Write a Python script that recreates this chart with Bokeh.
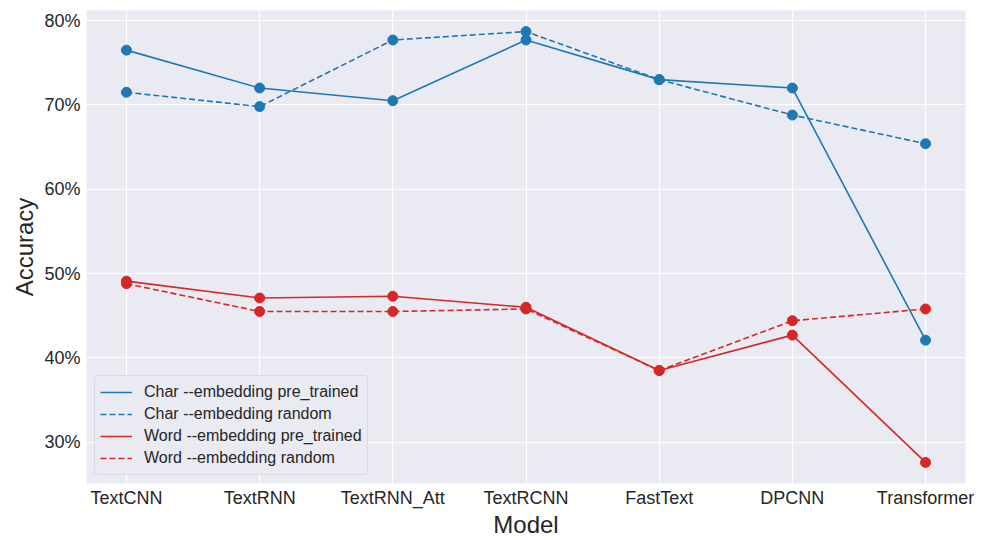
from bokeh.plotting import figure
from bokeh.models import Range1d, FixedTicker, NumeralTickFormatter
from bokeh.embed import file_html
from bokeh.resources import INLINE

models = ["TextCNN", "TextRNN", "TextRNN_Att", "TextRCNN", "FastText", "DPCNN", "Transformer"]
char_pre = [0.765, 0.720, 0.705, 0.777, 0.730, 0.720, 0.421]
char_rand = [0.715, 0.698, 0.777, 0.787, 0.730, 0.688, 0.654]
word_pre = [0.491, 0.471, 0.473, 0.460, 0.385, 0.427, 0.276]
word_rand = [0.488, 0.455, 0.455, 0.458, 0.385, 0.444, 0.458]
y_ticks = [0.3, 0.4, 0.5, 0.6, 0.7, 0.8]

BLUE = "#1f77b4"
RED = "#d62728"
FONT = "Liberation Sans"

xs = list(range(len(models)))

p = figure(width=975, height=540, output_backend="svg", toolbar_location=None,
           x_range=Range1d(-0.3, len(models) - 0.7), y_range=Range1d(0.251, 0.812),
           min_border_left=86, min_border_right=10, min_border_top=10, min_border_bottom=46)
p.background_fill_color = "#eaeaf2"
p.border_fill_color = "white"
p.outline_line_color = None

series = [
    (char_pre, BLUE, "solid", "Char --embedding pre_trained"),
    (char_rand, BLUE, "6 3", "Char --embedding random"),
    (word_pre, RED, "solid", "Word --embedding pre_trained"),
    (word_rand, RED, "6 3", "Word --embedding random"),
]
for vals, col, dash, lab in series:
    p.line(xs, vals, line_color=col, line_width=1.6, line_dash=dash, legend_label=lab)
for vals, col, dash, lab in series:
    p.scatter(xs, vals, size=10, fill_color=col, line_color=col)

for ax in (p.xaxis, p.yaxis):
    ax.axis_line_color = None
    ax.major_tick_line_color = None
    ax.minor_tick_line_color = None
    ax.major_tick_out = 0
    ax.major_tick_in = 0
    ax.minor_tick_out = 0
    ax.minor_tick_in = 0
    ax.major_label_text_font = FONT
    ax.major_label_text_font_size = "18px"
    ax.major_label_text_line_height = 1.0
    ax.major_label_text_color = "#262626"
    ax.axis_label_text_font = FONT
    ax.axis_label_text_font_size = "24px"
    ax.axis_label_text_line_height = 1.0
    ax.axis_label_text_font_style = "normal"
    ax.axis_label_text_color = "#262626"

p.xaxis.ticker = FixedTicker(ticks=xs)
p.xaxis.major_label_overrides = {i: m for i, m in enumerate(models)}
p.xaxis.axis_label = "Model"
p.xaxis.major_label_standoff = 4
p.xaxis.axis_label_standoff = 0

p.yaxis.ticker = FixedTicker(ticks=y_ticks)
p.yaxis.formatter = NumeralTickFormatter(format="0%")
p.yaxis.axis_label = "Accuracy"
p.yaxis.major_label_standoff = 6
p.yaxis.axis_label_standoff = 3

p.xgrid.ticker = FixedTicker(ticks=xs)
p.grid.grid_line_color = "white"
p.grid.grid_line_width = 1.2

lg = p.legend[0]
lg.location = "bottom_left"
lg.margin = 8
lg.padding = 5
lg.spacing = 0
lg.label_text_font = FONT
lg.label_text_font_size = "16px"
lg.label_text_color = "#262626"
lg.label_height = 22
lg.glyph_width = 32
lg.glyph_height = 22
lg.label_standoff = 12
lg.background_fill_color = "#eaeaf2"
lg.background_fill_alpha = 0.8
lg.border_line_color = "#cccccc"
lg.border_line_width = 1
lg.border_radius = 4

open("out.html", "w").write(file_html(p, INLINE))
